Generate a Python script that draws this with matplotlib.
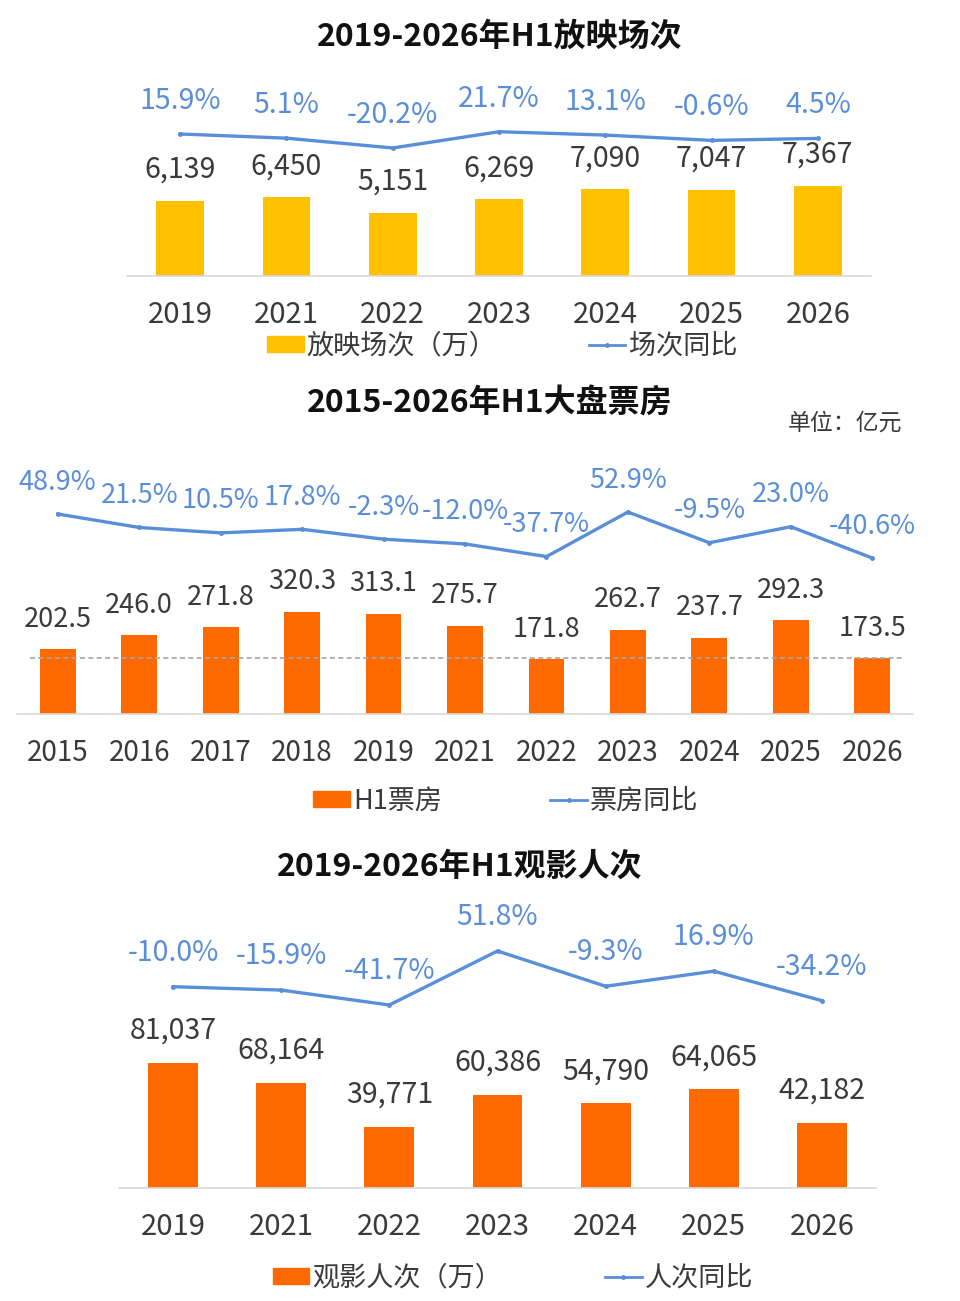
import matplotlib
matplotlib.use("Agg")
import matplotlib.pyplot as plt
import matplotlib.patches as mpatches
from matplotlib.lines import Line2D

plt.rcParams['font.family'] = ['Noto Sans CJK SC', 'DejaVu Sans']

# chart 1: screenings
years_a = ['2019', '2021', '2022', '2023', '2024', '2025', '2026']
screenings = [6139, 6450, 5151, 6269, 7090, 7047, 7367]
screenings_yoy = [15.9, 5.1, -20.2, 21.7, 13.1, -0.6, 4.5]

# chart 2: box office
years_b = ['2015', '2016', '2017', '2018', '2019', '2021', '2022', '2023', '2024', '2025', '2026']
box_office = [202.5, 246.0, 271.8, 320.3, 313.1, 275.7, 171.8, 262.7, 237.7, 292.3, 173.5]
box_office_yoy = [48.9, 21.5, 10.5, 17.8, -2.3, -12.0, -37.7, 52.9, -9.5, 23.0, -40.6]

# chart 3: admissions
admissions = [81037, 68164, 39771, 60386, 54790, 64065, 42182]
admissions_yoy = [-10.0, -15.9, -41.7, 51.8, -9.3, 16.9, -34.2]

W, H = 960, 1301
GOLD = '#FFC000'
ORANGE = '#FF6A00'
BLUE = '#5B8ED8'
TXT = '#3a3a3a'

fig = plt.figure(figsize=(W / 100, H / 100), dpi=100)


def px_axes(left, top, right, bottom):
    return fig.add_axes([left / W, 1 - bottom / H, (right - left) / W, (bottom - top) / H])


def draw_chart(box, cats, bars, yoy, bar_color, bar_ylim, line_ylim, bar_w,
               fmt, fs, bar_off, pct_off, tick_fs, tick_pad):
    ax = px_axes(*box)
    x = list(range(len(cats)))
    ax.bar(x, bars, width=bar_w, color=bar_color, zorder=2)
    ax.set_xlim(-0.5, len(cats) - 0.5)
    ax.set_ylim(*bar_ylim)
    for s in ['top', 'right', 'left']:
        ax.spines[s].set_visible(False)
    ax.spines['bottom'].set_color('#d9d9d9')
    ax.spines['bottom'].set_linewidth(1.2)
    ax.set_yticks([])
    ax.set_xticks(x)
    ax.set_xticklabels(cats, fontsize=tick_fs, color=TXT)
    ax.tick_params(axis='x', length=0, pad=tick_pad)
    for xi, v in zip(x, bars):
        ax.annotate(fmt(v), (xi, v), xytext=(0, bar_off), textcoords='offset pixels',
                    ha='center', va='center', fontsize=fs, color=TXT)
    ax.patch.set_alpha(0)

    ax2 = ax.twinx()
    ax2.plot(x, yoy, color=BLUE, lw=2.4, marker='o', ms=2.5, zorder=3)
    ax2.set_ylim(*line_ylim)
    ax2.axis('off')
    for xi, v in zip(x, yoy):
        ax2.annotate(f'{v:.1f}%', (xi, v), xytext=(0, pct_off), textcoords='offset pixels',
                     ha='center', va='center', fontsize=fs, color=BLUE)
    return ax


def draw_legend(cx, cy, bar_color, bar_label, line_label, fs, spacing):
    handles = [mpatches.Patch(color=bar_color, label=bar_label),
               Line2D([], [], color=BLUE, lw=2, marker='o', ms=2.5, label=line_label)]
    fig.legend(handles=handles, loc='center', bbox_to_anchor=(cx / W, 1 - cy / H),
               ncol=2, frameon=False, fontsize=fs, handlelength=1.35, handleheight=0.55,
               handletextpad=0.12, columnspacing=spacing, labelcolor=TXT)


# chart 1
fig.text(500 / W, 1 - 37 / H, '2019-2026年H1放映场次', ha='center', va='center',
         fontsize=23, fontweight='bold', color='#111111')
draw_chart((127, 80, 871, 276), years_a, screenings, screenings_yoy, GOLD,
           (0, 16043), (-350.3, 155.1), 0.45, lambda v: f'{v:,.0f}', 20.5, 31, 33, 21, 17)
draw_legend(502, 346, GOLD, '放映场次（万）', '场次同比', 19.5, 3.4)

# chart 2
fig.text(490 / W, 1 - 403 / H, '2015-2026年H1大盘票房', ha='center', va='center',
         fontsize=23, fontweight='bold', color='#111111')
fig.text(845 / W, 1 - 423 / H, '单位：亿元', ha='center', va='center',
         fontsize=16.5, color=TXT)
ax_b = draw_chart((17, 450, 913, 714), years_b, box_office, box_office_yoy, ORANGE,
                  (0, 825), (-357.9, 179.1), 0.44, lambda v: f'{v:.1f}', 19.5, 30, 32, 20, 17)
ax_b.axhline(box_office[-1], xmin=0.015, xmax=0.99, color='#a6a6a6', lw=1.2,
             ls=(0, (3, 2)), zorder=3)
draw_legend(506, 801, ORANGE, 'H1票房', '票房同比', 19.5, 4.0)

# chart 3
fig.text(460 / W, 1 - 867 / H, '2019-2026年H1观影人次', ha='center', va='center',
         fontsize=23, fontweight='bold', color='#111111')
draw_chart((119, 900, 876, 1188), years_a, admissions, admissions_yoy, ORANGE,
           (0, 186650), (-358.6, 140.1), 0.46, lambda v: f'{v:,.0f}', 20.5, 32, 34, 21, 17)
draw_legend(513, 1278, ORANGE, '观影人次（万）', '人次同比', 19.5, 3.8)

fig.savefig('out.png', dpi=100, facecolor='white')
